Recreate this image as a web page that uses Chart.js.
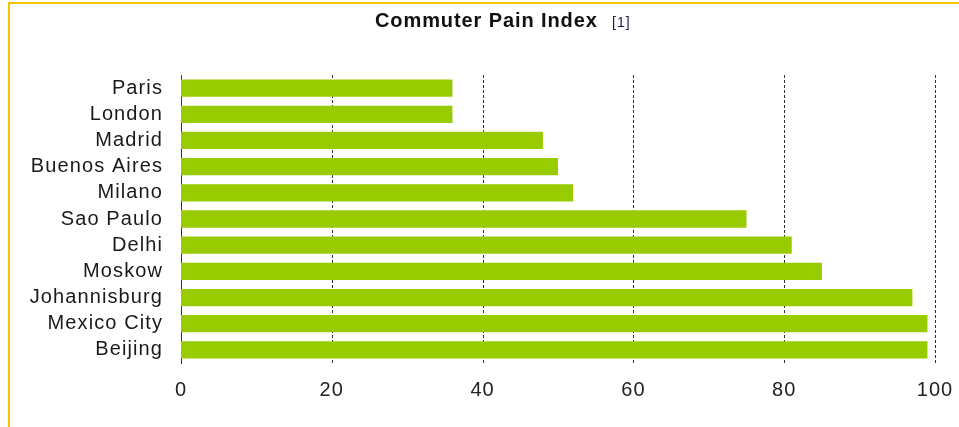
<!DOCTYPE html>
<html>
<head>
<meta charset="utf-8">
<script src="https://cdn.jsdelivr.net/npm/chart.js@4.4.0/dist/chart.umd.min.js"></script>
<style>
  html, body { margin: 0; padding: 0; background: #ffffff; }
  #wrap { position: relative; width: 959px; height: 427px; overflow: hidden; background: #fff; }
  #frameTop { position: absolute; left: 8px; top: 2px; width: 951px; height: 2px; background: #f5c400; }
  #frameLeft { position: absolute; left: 8px; top: 2px; width: 2px; height: 425px; background: #f5c400; }
  #title { position: absolute; left: 0; top: 9px; width: 959px; white-space: nowrap;
           font-family: "Liberation Sans", Arial, sans-serif; color: #111; }
  #title .main { position: absolute; left: 375px; top: 0; font-weight: bold; font-size: 20px; letter-spacing: 0.9px; }
  #title .ref { position: absolute; left: 612px; top: 5px; font-size: 14px; letter-spacing: 1px; color: #1a1a40; }
  canvas { position: absolute; left: 0; top: 0; }
</style>
</head>
<body>
<div id="wrap">
  <canvas id="c" width="959" height="427"></canvas>
  <div id="frameTop"></div>
  <div id="frameLeft"></div>
  <div id="title"><span class="main">Commuter Pain Index</span><span class="ref">[1]</span></div>
</div>
<script>
const cities = ["Paris", "London", "Madrid", "Buenos Aires", "Milano", "Sao Paulo", "Delhi", "Moskow", "Johannisburg", "Mexico City", "Beijing"];
const painIndex = [36, 36, 48, 50, 52, 75, 81, 85, 97, 99, 99];
const xTicks = [0, 20, 40, 60, 80, 100];

const spacingPlugin = {
  id: 'spacing',
  beforeUpdate(chart) { chart.ctx.letterSpacing = '1.1px'; },
  beforeDraw(chart) { chart.ctx.letterSpacing = '1.1px'; }
};

new Chart(document.getElementById('c'), {
  type: 'bar',
  data: {
    labels: cities,
    datasets: [{
      data: painIndex,
      backgroundColor: '#99cc00',
      borderWidth: 0,
      barPercentage: 0.66,
      categoryPercentage: 1.0
    }]
  },
  options: {
    indexAxis: 'y',
    responsive: false,
    animation: false,
    devicePixelRatio: 1,
    layout: { padding: { left: 0, right: 0, top: 75, bottom: 0 } },
    plugins: { legend: { display: false }, title: { display: false }, tooltip: { enabled: false } },
    scales: {
      x: {
        min: 0, max: 100,
        afterBuildTicks(scale) { scale.ticks = xTicks.map(v => ({ value: v })); },
        afterFit(scale) { scale.height = 64; scale.paddingRight = 24; scale.paddingLeft = 0; },
        border: { display: false },
        grid: { display: false, drawTicks: false },
        ticks: { color: '#222', padding: 15, autoSkip: false, maxRotation: 0, font: { family: '"Liberation Sans", Arial, sans-serif', size: 20 } }
      },
      y: {
        afterFit(scale) { scale.width = 181; },
        border: { display: true, color: '#333', width: 1 },
        grid: { display: false, drawTicks: false },
        ticks: { color: '#1a1a1a', padding: 18, autoSkip: false, font: { family: '"Liberation Sans", Arial, sans-serif', size: 20 } }
      }
    }
  },
  plugins: [spacingPlugin, {
    id: 'dashGrid',
    beforeDatasetsDraw(chart) {
      const xs = chart.scales.x, area = chart.chartArea, ctx = chart.ctx;
      ctx.save();
      ctx.strokeStyle = '#333';
      ctx.lineWidth = 1;
      ctx.setLineDash([3, 2]);
      xTicks.forEach(v => {
        if (v === 0) return;
        const px = Math.round(xs.getPixelForValue(v)) + 0.5;
        ctx.beginPath();
        ctx.moveTo(px, area.top);
        ctx.lineTo(px, area.bottom);
        ctx.stroke();
      });
      ctx.restore();
    }
  }]
});
</script>
</body>
</html>
